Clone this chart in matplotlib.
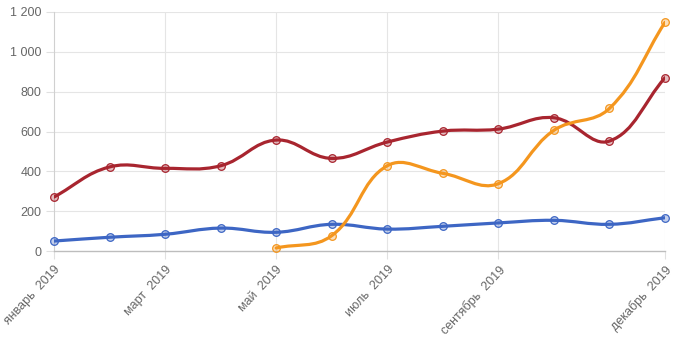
import matplotlib
matplotlib.use("Agg")
import matplotlib.pyplot as plt
import numpy as np
from matplotlib.path import Path
from matplotlib.patches import PathPatch
from matplotlib.colors import to_rgba

# ── Data ──────────────────────────────────────────────────────────────────────
MONTHS = ["январь  2019", "февраль  2019", "март  2019", "апрель  2019",
          "май  2019", "июнь  2019", "июль  2019", "август  2019",
          "сентябрь  2019", "октябрь  2019", "ноябрь  2019", "декабрь  2019"]
SHOWN_TICKS = [0, 2, 4, 6, 8, 11]

blue_vals = [50, 69, 84, 115, 94, 134, 110, 124, 141, 154, 134, 167]
red_vals = [271, 422, 415, 428, 557, 465, 547, 602, 612, 669, 552, 870]
orange_vals = [None, None, None, None, 15, 77, 428, 390, 338, 606, 716, 1148]

SERIES = [
    (blue_vals, "#3d66c4"),
    (red_vals, "#a8252f"),
    (orange_vals, "#f4961e"),
]

YTICKS = [0, 200, 400, 600, 800, 1000, 1200]
TEXT_COLOR = "#666666"
TENSION = 0.4

plt.rcParams["font.family"] = ["Liberation Sans", "DejaVu Sans"]

fig = plt.figure(figsize=(6.8, 3.45), dpi=100)
ax = fig.add_axes([54 / 680, 94 / 345, 611 / 680, 239 / 345])
ax.set_xlim(0, 11)
ax.set_ylim(0, 1200)


def spline_path(xs, ys):
    """Bezier path through the points, control points computed in pixel space."""
    pts = ax.transData.transform(np.column_stack([xs, ys]))
    n = len(pts)
    verts = [pts[0]]
    codes = [Path.MOVETO]
    cps = []
    for i in range(n):
        prev = pts[i - 1] if i > 0 else pts[i]
        nxt = pts[i + 1] if i < n - 1 else pts[i]
        d01 = np.hypot(*(pts[i] - prev))
        d12 = np.hypot(*(nxt - pts[i]))
        tot = d01 + d12
        s01 = d01 / tot if tot else 0
        s12 = d12 / tot if tot else 0
        fa, fb = TENSION * s01, TENSION * s12
        c_prev = pts[i] - fa * (nxt - prev)
        c_next = pts[i] + fb * (nxt - prev)
        cps.append((c_prev, c_next))
    for i in range(1, n):
        verts += [cps[i - 1][1], cps[i][0], pts[i]]
        codes += [Path.CURVE4] * 3
    data_verts = ax.transData.inverted().transform(np.array(verts))
    return Path(data_verts, codes)


# gridlines
for v in YTICKS[1:]:
    ax.axhline(v, color="#e5e5e5", lw=0.8, zorder=0)
for t in SHOWN_TICKS[1:]:
    ax.axvline(t, color="#e5e5e5", lw=0.8, zorder=0)

for vals, color in SERIES:
    idx = [i for i, v in enumerate(vals) if v is not None]
    xs = np.array(idx, dtype=float)
    ys = np.array([vals[i] for i in idx], dtype=float)
    ax.add_patch(PathPatch(spline_path(xs, ys), facecolor="none",
                           edgecolor=color, lw=2.3, zorder=3,
                           capstyle="round", joinstyle="round"))
    ax.plot(xs, ys, "o", ms=5.5, mfc=to_rgba(color, 0.3), mec=color,
            mew=0.9, zorder=4, clip_on=False)

for side in ["top", "right"]:
    ax.spines[side].set_visible(False)
ax.spines["left"].set_color("#d0d0d0")
ax.spines["bottom"].set_color("#bdbdbd")
ax.spines["left"].set_linewidth(0.8)
ax.spines["bottom"].set_linewidth(1.0)

ax.set_yticks(YTICKS)
ax.set_yticklabels([f"{v:,}".replace(",", " ") for v in YTICKS])
ax.set_xticks(SHOWN_TICKS)
ax.set_xticklabels([MONTHS[i] for i in SHOWN_TICKS], rotation=47,
                   ha="right", va="top", rotation_mode="anchor")
ax.tick_params(axis="both", colors="#e0e0e0", labelcolor=TEXT_COLOR,
               labelsize=9, length=6, width=0.8, pad=3)
ax.tick_params(axis="x", pad=3)

fig.savefig("out.png", dpi=100)
